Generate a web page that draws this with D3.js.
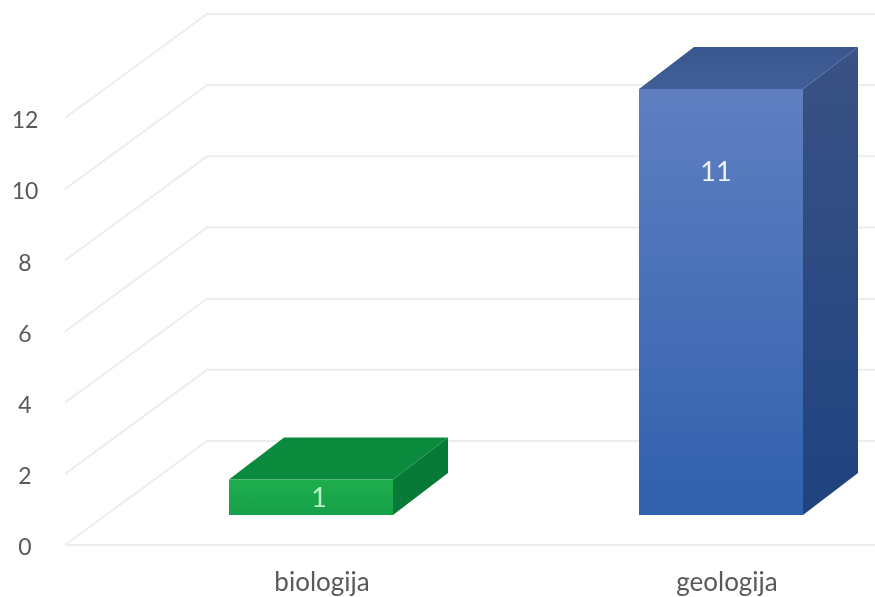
<!DOCTYPE html>
<html><head><meta charset="utf-8">
<script src="https://cdn.jsdelivr.net/npm/d3@7/dist/d3.min.js"></script>
<style>html,body{margin:0;padding:0;background:#fff}svg{display:block;filter:blur(0.6px)}text{font-family:Lato,"Open Sans",sans-serif}</style>
</head><body><svg id="c" width="875" height="597"></svg>
<script>
const categories = ["biologija","geologija"];
const barHeights = [1, 12];
const dataLabels = ["1","11"];
const yTicks = [0,2,4,6,8,10,12];
const frontColors = [["#1fae4e","#16a049"],["#5f7fc1","#3160ad"]];
const sideColors = [["#057a36","#067a36"],["#3a5285","#1f437f"]];
const topColors = [["#0a8a3c","#0a8a3c"],["#39568f","#415e97"]];

const svg = d3.select("#c");
const W = 875, depthX = 142, depthY = 104, barDX = 55, barDY = 42;
const y = d3.scaleLinear().domain([0,12]).range([545,118]);
const yBar = d3.scaleLinear().domain([0,12]).range([515,89]);
const x = d3.scaleBand().domain(categories).range([229,803]).paddingInner(0.6);
const left = 65;

const defs = svg.append("defs");
function grad(id, c){
  const g = defs.append("linearGradient").attr("id",id).attr("x1",0).attr("y1",0).attr("x2",0).attr("y2",1);
  g.append("stop").attr("offset",0).attr("stop-color",c[0]);
  g.append("stop").attr("offset",1).attr("stop-color",c[1]);
}
categories.forEach((c,i)=>{grad("f"+i,frontColors[i]);grad("s"+i,sideColors[i]);grad("t"+i,topColors[i]);});

const grid = svg.append("g").attr("fill","none").attr("stroke","#ededed").attr("stroke-width",2);
yTicks.forEach(t=>{
  const p = d3.path(), yy = y(t);
  p.moveTo(left,yy); p.lineTo(left+depthX,yy-depthY);
  p.lineTo(W,yy-depthY);
  grid.append("path").attr("d",p.toString());
});
grid.append("line").attr("x1",left).attr("x2",W).attr("y1",y(0)).attr("y2",y(0));

svg.append("g").selectAll("text").data(yTicks).join("text")
  .attr("x",25).attr("y",d=>y(d)+2).attr("dy","0.36em").attr("text-anchor","middle")
  .attr("font-size",23).attr("fill","#595959").text(d=>d);

categories.forEach((c,i)=>{
  const g = svg.append("g");
  const x0 = x(c), x1 = x0+x.bandwidth(), y0 = yBar(0), y1 = yBar(barHeights[i]);
  g.append("path").attr("fill",`url(#s${i})`)
    .attr("d",d3.line()([[x1,y1],[x1+barDX,y1-barDY],[x1+barDX,y0-barDY],[x1,y0]])+"Z");
  g.append("path").attr("fill",`url(#t${i})`)
    .attr("d",d3.line()([[x0,y1],[x0+barDX,y1-barDY],[x1+barDX,y1-barDY],[x1,y1]])+"Z");
  g.append("rect").attr("x",x0).attr("y",y1).attr("width",x.bandwidth()).attr("height",y0-y1).attr("fill",`url(#f${i})`);
  g.append("text").attr("x",x0+x.bandwidth()/2+(i?-5:8)).attr("y",i?171:497).attr("dy","0.36em")
    .attr("text-anchor","middle").attr("font-size",27).attr("fill",i?"#eef3fa":"#b8f0c8").text(dataLabels[i]);
  svg.append("text").attr("x",x0+x.bandwidth()/2+(i?6:11)).attr("y",582).attr("dy","0.36em")
    .attr("text-anchor","middle").attr("font-size",26).attr("fill","#595959").text(c);
});
</script></body></html>
